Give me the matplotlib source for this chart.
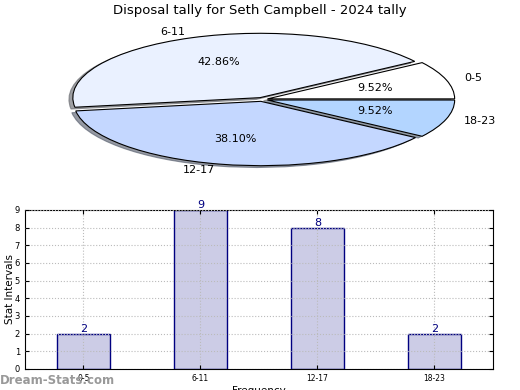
import matplotlib
matplotlib.use("Agg")
import matplotlib.pyplot as plt

# data
categories = ["0-5", "6-11", "12-17", "18-23"]
counts = [2, 9, 8, 2]
pie_colors = ["#FFFFFF", "#EAF1FF", "#C4D7FF", "#B3D5FF"]
title = "Disposal tally for Seth Campbell - 2024 tally"

fig = plt.figure(figsize=(5.2, 3.9), dpi=100)

# pie (squashed, not equal aspect)
ax1 = fig.add_axes([0.108, 0.5635, 0.792, 0.363])
wedges, texts, autotexts = ax1.pie(
    counts, labels=categories, colors=pie_colors, autopct="%1.2f%%",
    explode=[0.03] * 4, startangle=0,
    shadow={"ox": -0.015, "oy": -0.02, "shade": 0.6, "alpha": 0.6},
    wedgeprops=dict(edgecolor="black", linewidth=0.8),
    textprops=dict(fontsize=8))
ax1.set_aspect("auto")
ax1.set_xlim(-1.1, 1.1)
ax1.set_ylim(-1.1, 1.1)
fig.text(0.5, 0.972, title, ha="center", va="center", fontsize=9.5)

# bars
ax2 = fig.add_axes([0.048, 0.054, 0.9, 0.408])
x = range(len(categories))
ax2.bar(x, counts, width=0.45, color="#CCCCE6", edgecolor="#000080", linewidth=1)
for i, v in zip(x, counts):
    ax2.text(i, v, str(v), ha="center", va="bottom", fontsize=8, color="#000080")
ax2.set_xlim(-0.5, 3.5)
ax2.set_ylim(0, 9)
ax2.set_yticks(range(10))
ax2.set_xticks(list(x))
ax2.set_xticklabels(categories, fontsize=5.5)
ax2.tick_params(axis="y", labelsize=6, direction="in", right=True, length=3)
ax2.tick_params(axis="x", direction="in", top=True, length=3)
ax2.grid(True, linestyle=":", color="#BBBBBB", linewidth=0.8)
ax2.set_axisbelow(False)
ax2.set_ylabel("Stat Intervals", fontsize=7.5)
ax2.yaxis.set_label_coords(-0.022, 0.5)
ax2.set_xlabel("Frequency", fontsize=7.5, labelpad=2)

fig.text(0.0, 0.025, "Dream-Stats.com", fontsize=8.5, color="#999999",
         fontweight="bold", ha="left", va="center")

fig.savefig("out.png", dpi=100)
